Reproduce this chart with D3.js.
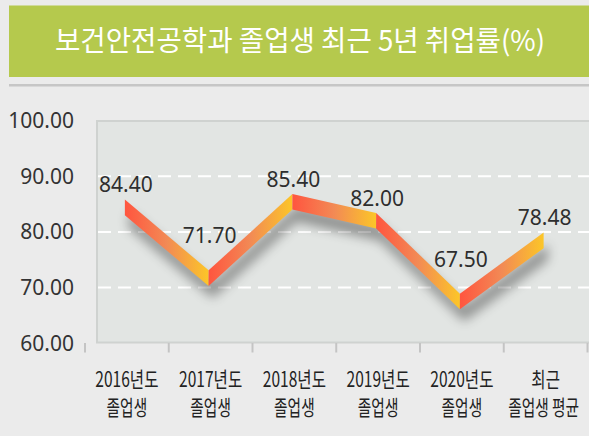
<!DOCTYPE html>
<html><head><meta charset="utf-8">
<script src="https://cdn.jsdelivr.net/npm/d3@7"></script>
<style>
html,body{margin:0;padding:0;background:#ebebeb;}
svg{display:block;}
</style></head>
<body>
<svg id="chart" width="589" height="436"></svg>
<script>
const titleText = "보건안전공학과 졸업생 최근 5년 취업률(%)";
const categoryLine1 = ["2016년도", "2017년도", "2018년도", "2019년도", "2020년도", "최근"];
const categoryLine2 = ["졸업생", "졸업생", "졸업생", "졸업생", "졸업생", "졸업생 평균"];
const values = [84.40, 71.70, 85.40, 82.00, 67.50, 78.48];
const yTicks = [60, 70, 80, 90, 100];
const gridValues = [70, 80, 90];

const svg = d3.select("#chart");
const W = 589, H = 436;

svg.append("rect").attr("width", W).attr("height", H).attr("fill", "#ebebeb");

// title bar
svg.append("rect").attr("x", 9).attr("y", 5.5).attr("width", W - 9).attr("height", 71.5).attr("fill", "#b5c94d");
svg.append("rect").attr("x", 9).attr("y", 84).attr("width", W - 9).attr("height", 2.5).attr("fill", "#c6c6c6");
svg.append("text").attr("x", 300).attr("y", 51).attr("text-anchor", "middle")
  .attr("fill", "#ffffff").style("font-family", "'Noto Sans CJK KR'").style("font-size", "28px")
  .attr("textLength", 490).attr("lengthAdjust", "spacingAndGlyphs")
  .text(titleText);

// scales
const y = d3.scaleLinear().domain([60, 100]).range([343.3, 120.5]);
const xb = d3.scaleBand().domain(d3.range(values.length)).range([85, 587.5]).paddingInner(0).paddingOuter(0);
const cx = i => xb(i) + xb.bandwidth() / 2;

// back wall
svg.append("rect").attr("x", 97).attr("y", 121).attr("width", W - 96).attr("height", 221.5)
  .attr("fill", "#e2e5e3").attr("stroke", "#cfd2d0").attr("stroke-width", 2);

// gridlines
svg.append("g").selectAll("line").data(gridValues).join("line")
  .attr("x1", 98).attr("x2", W).attr("y1", d => y(d)).attr("y2", d => y(d))
  .attr("stroke", "#ffffff").attr("stroke-width", 2).attr("stroke-dasharray", "13,7");

// y axis labels
svg.append("g").selectAll("text").data(yTicks).join("text")
  .attr("x", 74).attr("y", d => y(d)).attr("dy", "0.36em").attr("text-anchor", "end")
  .attr("fill", "#333333").style("font-family", "'Noto Sans'").style("font-size", "21px")
  .text(d => d3.format(".2f")(d));

// x ticks
const tickXs = d3.range(values.length + 1).map(i => i < values.length ? xb(i) : xb(values.length - 1) + xb.bandwidth());
svg.append("g").selectAll("line").data(tickXs).join("line")
  .attr("x1", d => d).attr("x2", d => d).attr("y1", 343).attr("y2", 352.5)
  .attr("stroke", "#c4c4c4").attr("stroke-width", 2);

// x labels
const xl = svg.append("g").style("font-family", "'Noto Sans CJK KR'").style("font-size", "21px").attr("fill", "#222222");
categoryLine1.forEach((t, i) => {
  xl.append("text").attr("text-anchor", "middle")
    .attr("transform", `translate(${cx(i)},386.5) scale(0.74,1)`).text(t);
  xl.append("text").attr("text-anchor", "middle")
    .attr("transform", `translate(${cx(i) - (i === values.length - 1 ? 2 : 0)},415) scale(0.7,1)`).text(categoryLine2[i]);
});

// defs: shadow + gradients
const defs = svg.append("defs");
const f = defs.append("filter").attr("id", "shadow").attr("x", "-20%").attr("y", "-50%").attr("width", "150%").attr("height", "250%");
f.append("feGaussianBlur").attr("in", "SourceAlpha").attr("stdDeviation", 6).attr("result", "b");
f.append("feOffset").attr("in", "b").attr("dx", 4).attr("dy", 12).attr("result", "o");
f.append("feComponentTransfer").attr("in", "o").attr("result", "s")
  .append("feFuncA").attr("type", "linear").attr("slope", 0.38);

const rx = i => cx(i) - 2;
const half = 7.8;
const segs = d3.range(values.length - 1);
segs.forEach(i => {
  const g = defs.append("linearGradient").attr("id", "g" + i).attr("gradientUnits", "userSpaceOnUse")
    .attr("x1", rx(i)).attr("x2", rx(i + 1)).attr("y1", 0).attr("y2", 0);
  g.append("stop").attr("offset", 0).attr("stop-color", "#ff553f");
  g.append("stop").attr("offset", 0.5).attr("stop-color", "#f28a55");
  g.append("stop").attr("offset", 1).attr("stop-color", "#fcc628");
});

const segPath = i => {
  const x0 = rx(i), x1 = rx(i + 1), y0 = y(values[i]), y1 = y(values[i + 1]);
  return `M${x0},${y0 - half}L${x1},${y1 - half}L${x1},${y1 + half}L${x0},${y0 + half}Z`;
};

// shadow layer
svg.append("g").attr("filter", "url(#shadow)").selectAll("path").data(segs).join("path")
  .attr("d", segPath).attr("fill", "#000");
// ribbon
svg.append("g").selectAll("path").data(segs).join("path")
  .attr("d", segPath).attr("fill", i => `url(#g${i})`);

// data labels
const isValley = i => (i > 0 && i < values.length - 1 && values[i] < values[i - 1] && values[i] < values[i + 1]);
svg.append("g").selectAll("text").data(values).join("text")
  .attr("x", (d, i) => cx(i) - 1)
  .attr("y", (d, i) => y(d) - (isValley(i) ? 35 : 15))
  .attr("text-anchor", "middle").attr("fill", "#2e2e2e")
  .style("font-family", "'Noto Sans'").style("font-size", "21px")
  .text(d => d3.format(".2f")(d));
</script>
</body></html>
